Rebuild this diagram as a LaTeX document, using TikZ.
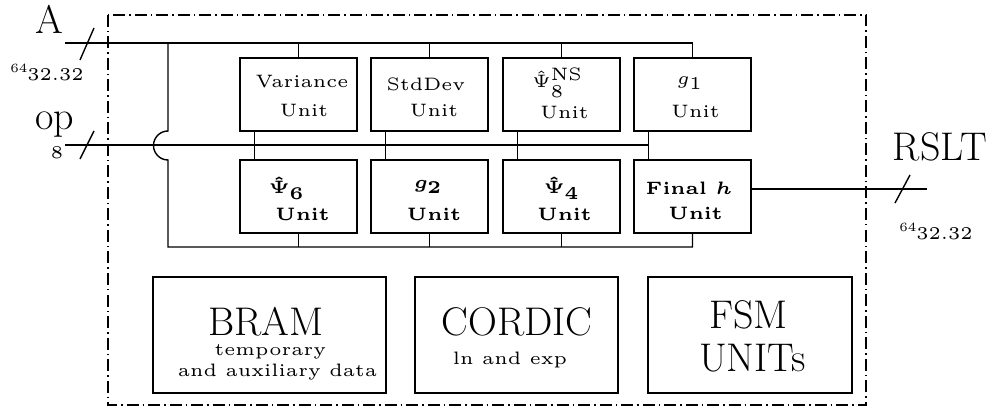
\documentclass[tikz,border=0pt]{standalone}
\usepackage{graphicx}
\usetikzlibrary{calc}
\newcommand\tsc[1]{\scalebox{1.8}{\tiny #1}}
\newcommand\tbf[1]{\scalebox{1.8}{\tiny\bfseries\boldmath #1}}
\newcommand\fmt{\raisebox{2.2pt}{\scalebox{0.7}{64}}32.32}
\begin{document}
\begin{tikzpicture}[x=0.5pt,y=-0.5pt,line width=0.7pt,
  ubox/.style={draw,minimum width=58.5pt,minimum height=36.5pt,inner sep=0pt},
  bbox/.style={draw,minimum height=58pt,inner sep=0pt},
  txt/.style={inner sep=0pt},
  big/.style={inner sep=0pt,font=\fontsize{20}{24}\selectfont},
  title/.style={inner sep=0pt,font=\fontsize{20}{24}\selectfont},
  frame/.style={line width=0.6pt,dash pattern=on 6pt off 2pt on 0.75pt off 2pt}]
\useasboundingbox (0,0) rectangle (990,411);
\draw[frame] (108,15) rectangle (866,405);
% top row
\node[ubox] (var) at (298.5,94.5) {};
\node[ubox] (std) at (429.5,94.5) {};
\node[ubox] (ps8) at (561.5,94.5) {};
\node[ubox] (ga)  at (692.5,94.5) {};
% bottom row
\node[ubox] (ps6) at (298.5,196.5) {};
\node[ubox] (gb)  at (429.5,196.5) {};
\node[ubox] (ps4) at (561.5,196.5) {};
\node[ubox] (fh)  at (692.5,196.5) {};
% texts
\node[txt] (var-a) at (302,82) {\tsc{Variance}};
\node[txt] (var-b) at (304,111) {\tsc{Unit}};
\node[txt] (std-a) at (426,84) {\tsc{StdDev}};
\node[txt] (std-b) at (434,111) {\tsc{Unit}};
\node[txt] (ps8-a) at (558,83) {\tsc{$\hat\Psi_8^{\mathrm{NS}}$}};
\node[txt] (ps8-b) at (564.5,113) {\tsc{Unit}};
\node[txt] (ga-a) at (690,83) {\tsc{$g_1$}};
\node[txt] (ga-b) at (695.5,112) {\tsc{Unit}};
\node[txt] (ps6-a) at (287,188) {\tbf{$\hat\Psi_6$}};
\node[txt] (ps6-b) at (302.5,214) {\tbf{Unit}};
\node[txt] (gb-a) at (428.5,187) {\tbf{$g_2$}};
\node[txt] (gb-b) at (434,214) {\tbf{Unit}};
\node[txt] (ps4-a) at (562,188) {\tbf{$\hat\Psi_4$}};
\node[txt] (ps4-b) at (564.5,214) {\tbf{Unit}};
\node[txt] (fh-a) at (689,188) {\tbf{Final $h$}};
\node[txt] (fh-b) at (695.5,213) {\tbf{Unit}};
% bottom boxes
\node[bbox,minimum width=116.5pt] (bram) at (269.5,335) {};
\node[bbox,minimum width=101.5pt] (cord) at (516.5,335) {};
\node[bbox,minimum width=102pt] (fsm) at (750,335) {};
\node[title] (bram-a) at (266,322) {BRAM};
\node[txt] (bram-b) at (270.5,352) {\tsc{temporary}};
\node[txt] (bram-c) at (277.5,372) {\tsc{and auxiliary data}};
\node[title] (cord-a) at (517,322) {CORDIC};
\node[txt] (cord-b) at (510,360) {\tsc{ln and exp}};
\node[title] (fsm-a) at (748.5,315) {FSM};
\node[title] (fsm-b) at (752.5,358) {UNITs};
% outer labels
\node[big] (lA) at (49,19) {A};
\node[txt] (lA2) at (47,72) {\tsc{\fmt}};
\node[big] (lop) at (55,125) {op};
\node[txt] (lop2) at (57,153) {\tsc{8}};
\node[big] (lR) at (940,147) {RSLT};
\node[txt] (lR2) at (936,231) {\tsc{\fmt}};
% coordinates
\coordinate (Ain) at (65,43);
\coordinate (opin) at (65,145);
\coordinate (lbt) at (168,43);
\coordinate (hop) at (168,131);
\coordinate (lbb) at (168,247);
\coordinate (m4) at ($(ga.south west)+(15,0)$);
\coordinate (rs) at ($(fh.east)+(0,-7.5)$);
\coordinate (rsend) at (927,189);
% A bus
\draw (Ain) -- (Ain -| ga.north) -- (ga.north);
\foreach \n in {var,std,ps8} \draw (\n.north) -- (\n.north |- Ain);
% left / bottom bus with hop
\draw (lbt) -- (hop) arc[start angle=270,end angle=90,radius=14.5] -- (lbb) -- (lbb -| fh.south) -- (fh.south);
\foreach \n in {ps6,gb,ps4} \draw (\n.south) -- (\n.south |- lbb);
% middle connectors
\foreach \a/\b in {var/ps6,std/gb,ps8/ps4,ga/fh}
  \draw ($(\a.south west)+(15,0)$) -- ($(\b.north west)+(15,0)$);
% op line
\draw (opin) -- (opin -| m4);
% result
\draw (rs) -- (rsend);
% bus-width slashes
\draw (80,60) -- (94,28);
\draw (80,159) -- (94,131);
\draw (895,203) -- (910,175);
\end{tikzpicture}
\end{document}
